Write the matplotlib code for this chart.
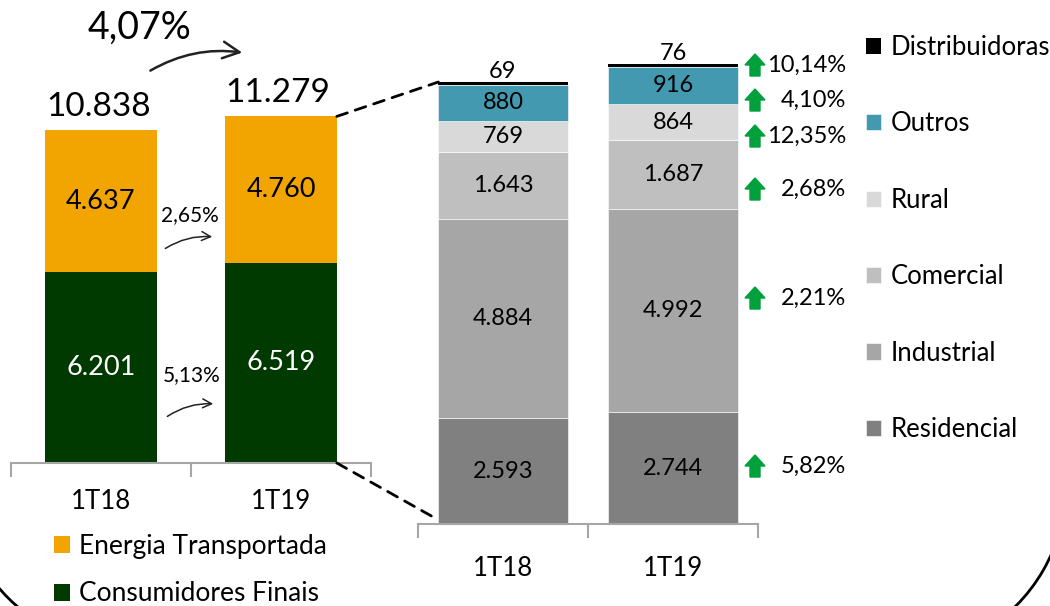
import matplotlib
matplotlib.use('Agg')
import matplotlib.pyplot as plt
import matplotlib.patches as mpatches
from matplotlib.patches import ConnectionPatch, Arc, FancyArrow

plt.rcParams['font.family'] = ['Lato', 'DejaVu Sans']

# data
periodos = ['1T18', '1T19']
consumidores = [6201, 6519]
energia = [4637, 4760]
var_total = '4,07%'
var_energia = '2,65%'
var_consumidores = '5,13%'

classes = ['Residencial', 'Industrial', 'Comercial', 'Rural', 'Outros', 'Distribuidoras']
residencial = [2593, 2744]
industrial = [4884, 4992]
comercial = [1643, 1687]
rural = [769, 864]
outros = [880, 916]
distribuidoras = [69, 76]
var_classes = ['5,82%', '2,21%', '2,68%', '12,35%', '4,10%', '10,14%']

c_energia = '#F2A500'
c_cons = '#003A00'
c_classes = ['#808080', '#A6A6A6', '#BFBFBF', '#D9D9D9', '#4299B0', '#000000']

W, H = 1050, 606
fig = plt.figure(figsize=(W / 100, H / 100), dpi=100)
T = fig.dpi_scale_trans


def P(x, y):
    # pixel position (from top-left) -> inches
    return (x / 100, (H - y) / 100)


def fmt(v):
    return f'{v:,}'.replace(',', '.')


def style_axis(ax, pad):
    for s in ['left', 'right', 'top']:
        ax.spines[s].set_visible(False)
    ax.spines['bottom'].set_color('#A6A6A6')
    ax.spines['bottom'].set_linewidth(1.5)
    ax.set_yticks([])
    ax.set_xlim(-0.5, 1.5)
    ax.set_xticks([0, 1], periodos)
    ax.tick_params(axis='x', length=0, pad=pad, labelsize=18.5)
    ax.set_xticks([-0.5, 0.5, 1.5], minor=True)
    ax.tick_params(axis='x', which='minor', length=10, width=1.5, color='#A6A6A6')
    ax.patch.set_visible(False)


# left chart
axL = fig.add_axes([11 / W, (H - 463) / H, 360 / W, 363 / H])
wl = 0.62
x = [0, 1]
b1 = axL.bar(x, consumidores, wl, color=c_cons)
b2 = axL.bar(x, energia, wl, bottom=consumidores, color=c_energia)
axL.set_ylim(0, 11813)
style_axis(axL, 19)
for i in x:
    axL.text(i, consumidores[i] / 2, fmt(consumidores[i]), ha='center', va='center',
             fontsize=19.5, color='white')
    axL.text(i, consumidores[i] + energia[i] / 2, fmt(energia[i]), ha='center', va='center',
             fontsize=19.5, color='black')
    tot = consumidores[i] + energia[i]
    axL.annotate(fmt(tot), (i, tot), xytext=(-2, 6), textcoords='offset points',
                 ha='center', va='bottom', fontsize=24)

# right chart
axR = fig.add_axes([418 / W, (H - 524) / H, 340 / W, 484 / H])
wr = 0.76
series = [residencial, industrial, comercial, rural, outros, distribuidoras]
bottom = [0, 0]
bars = []
for k, vals in enumerate(series):
    b = axR.bar(x, vals, wr, bottom=bottom, color=c_classes[k], edgecolor='white',
                linewidth=0.4 if k < 5 else 0, label=classes[k])
    bars.append(b)
    for i in x:
        if k < 5:
            axR.text(i, bottom[i] + vals[i] / 2, fmt(vals[i]), ha='center', va='center',
                     fontsize=17)
        else:
            axR.annotate(fmt(vals[i]), (i, bottom[i] + vals[i]), xytext=(0, 0),
                         textcoords='offset points', ha='center', va='bottom', fontsize=17)
    bottom = [bottom[i] + vals[i] for i in x]
axR.set_ylim(0, 11868)
style_axis(axR, 23)

# dashed zoom lines
tot_l = consumidores[1] + energia[1]
for ya, yb in [(tot_l, bottom[0]), (0, 100)]:
    con = ConnectionPatch(xyA=(1 + wl / 2, ya), coordsA=axL.transData,
                          xyB=(-wr / 2, yb), coordsB=axR.transData,
                          linestyle=(0, (4, 3)), linewidth=2, color='black')
    fig.add_artist(con)

# variation annotations, left
fig.text(*P(139, 28), var_total, transform=T, ha='center', va='center', fontsize=27)
fig.text(*P(190, 215), var_energia, transform=T, ha='center', va='center', fontsize=15)
fig.text(*P(192, 375), var_consumidores, transform=T, ha='center', va='center', fontsize=15)
for a, b, ms, lw in [((148, 72), (245, 53), 30, 1.8), ((163, 250), (215, 237), 16, 1.1),
                     ((165, 418), (216, 404), 16, 1.1)]:
    fig.add_artist(mpatches.FancyArrowPatch(P(*a), P(*b), transform=T,
                                            arrowstyle='->', mutation_scale=ms,
                                            connectionstyle='arc3,rad=-0.18',
                                            lw=lw, color='#222222'))

# variation annotations, right
pct_y = [466, 298, 189, 136, 100, 65]
for lab, yy in zip(var_classes, pct_y):
    fig.add_artist(FancyArrow(755 / 100, (H - yy - 11) / 100, 0, 0.22, width=0.10,
                              head_width=0.20, head_length=0.11, length_includes_head=True,
                              color='#00A03C', transform=T))
    fig.text(*P(846, yy), lab, transform=T, ha='right', va='center', fontsize=17)

# legends
legL = fig.legend([b2, b1], ['Energia Transportada', 'Consumidores Finais'],
                  loc='upper left', bbox_to_anchor=P(54, 534), bbox_transform=T,
                  frameon=False, fontsize=19, handlelength=0.6, handleheight=0.6,
                  handletextpad=0.35, labelspacing=0.85, borderaxespad=0, borderpad=0)
legR = fig.legend(bars[::-1], classes[::-1], loc='upper left',
                  bbox_to_anchor=P(866, 35), bbox_transform=T, frameon=False,
                  fontsize=18.5, handlelength=0.6, handleheight=0.6, handletextpad=0.35,
                  labelspacing=2.0, borderaxespad=0, borderpad=0)

# frame corners
fig.add_artist(Arc((8.95, 1.21), 3.42, 3.42, theta1=-60, theta2=0, transform=T,
                   color='black', lw=2))
fig.add_artist(Arc((1.29, 1.29), 3.42, 3.42, theta1=200, theta2=250, transform=T,
                   color='black', lw=2))

fig.savefig('out.png', dpi=100)
